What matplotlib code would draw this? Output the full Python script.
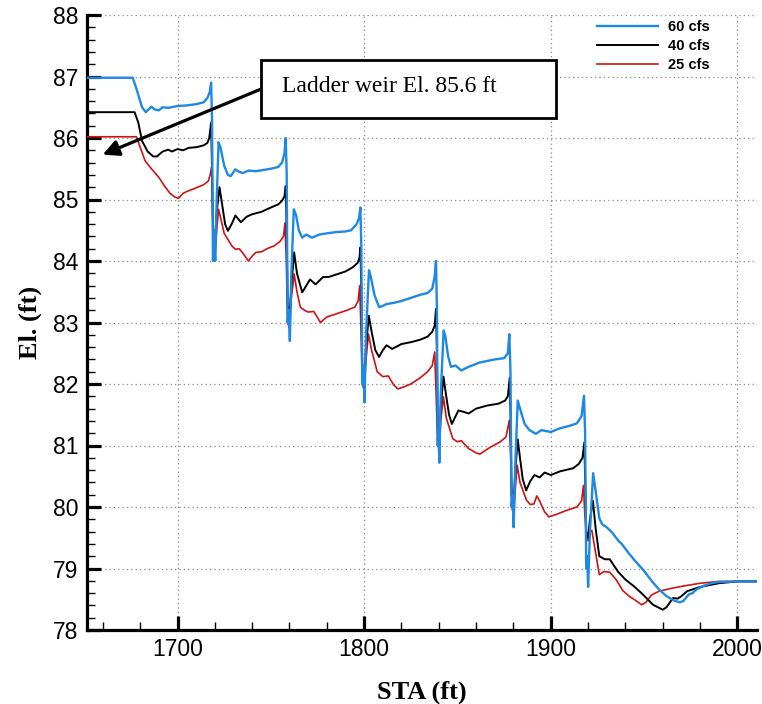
import matplotlib
matplotlib.use("Agg")
import matplotlib.pyplot as plt
from matplotlib.patches import Rectangle
from matplotlib.ticker import MultipleLocator

# ---------------- data ----------------
x60 = [1651, 1676, 1678, 1681, 1683, 1686, 1688, 1690, 1692, 1695, 1700, 1705, 1710, 1714, 1716, 1717.3, 1718,
       1718.5, 1719, 1719.6, 1720.2, 1721, 1722, 1723, 1725, 1727, 1728.5, 1731, 1733, 1735, 1738, 1742, 1746,
       1750, 1754, 1756, 1757.3, 1758, 1758.5, 1759, 1759.6, 1760.2, 1761, 1762.3, 1763.5, 1765, 1766.8, 1769,
       1772, 1776, 1780, 1785, 1790, 1793, 1796, 1797.3, 1798, 1798.5, 1799, 1799.6, 1800.2, 1801, 1802.6,
       1803.5, 1805.5, 1808, 1810, 1812, 1816, 1820, 1825, 1830, 1834, 1836.5, 1837.8, 1838.5, 1839, 1839.4,
       1839.8, 1840.3, 1841, 1842.6, 1843.5, 1845, 1846.5, 1849, 1852, 1856, 1862, 1870, 1875, 1877, 1877.8,
       1878.4, 1879, 1879.5, 1880.1, 1881, 1882.3, 1883.5, 1886, 1888.6, 1892, 1895, 1900, 1905, 1910, 1914,
       1916.5, 1917.8, 1918.4, 1919, 1919.5, 1920, 1921, 1922.7, 1924, 1926, 1927.5, 1930, 1933, 1936, 1938,
       1942, 1945, 1950, 1954, 1958, 1962, 1966, 1969, 1971, 1974, 1976, 1978, 1982, 1986, 1990, 2000, 2011]
y60 = [86.98, 86.98, 86.8, 86.5, 86.42, 86.51, 86.46, 86.45, 86.5, 86.49, 86.52, 86.53, 86.55, 86.58, 86.65, 86.75,
       86.9, 86.3, 84.0, 84.5, 84.0, 85.0, 85.93, 85.85, 85.55, 85.4, 85.38, 85.49, 85.45, 85.43, 85.47, 85.46,
       85.48, 85.5, 85.53, 85.6, 85.75, 86.0, 85.4, 83.0, 83.2, 82.7, 83.8, 84.84, 84.75, 84.5, 84.38, 84.43,
       84.38, 84.43, 84.45, 84.47, 84.48, 84.5, 84.6, 84.7, 84.87, 84.2, 82.0, 82.3, 81.7, 82.8, 83.85, 83.75,
       83.45, 83.25, 83.27, 83.3, 83.32, 83.35, 83.4, 83.45, 83.48, 83.55, 83.75, 84.0, 83.2, 81.0, 81.2,
       80.72, 81.8, 82.87, 82.78, 82.45, 82.28, 82.3, 82.22, 82.28, 82.35, 82.4, 82.42, 82.5, 82.81, 82.2,
       80.0, 80.2, 79.67, 80.7, 81.73, 81.6, 81.35, 81.25, 81.19, 81.25, 81.22, 81.28, 81.32, 81.36, 81.48,
       81.81, 81.2, 79.0, 79.2, 78.7, 79.6, 80.55, 80.27, 79.82, 79.72, 79.67, 79.58, 79.46, 79.4, 79.24,
       79.13, 78.96, 78.8, 78.66, 78.55, 78.48, 78.45, 78.47, 78.58, 78.6, 78.66, 78.72, 78.76, 78.78,
       78.79, 78.79]

x40 = [1651, 1677, 1679, 1681, 1684, 1687, 1689, 1692, 1695, 1697, 1700, 1703, 1706, 1710, 1714, 1716, 1717, 1718,
       1718.5, 1719, 1720, 1721, 1722.5, 1724, 1725.5, 1727, 1729, 1731, 1734, 1737, 1740, 1745, 1750, 1754,
       1756, 1757.3, 1758, 1758.5, 1759, 1760, 1761, 1762.5, 1764, 1766.8, 1769, 1771, 1774, 1778, 1781, 1785,
       1790, 1794, 1796.5, 1797.5, 1798, 1798.5, 1799, 1800, 1801, 1802.5, 1804, 1806, 1808, 1810, 1812, 1815,
       1820, 1825, 1830, 1834, 1836.5, 1837.8, 1838.5, 1839, 1839.5, 1840.3, 1841, 1842.5, 1844, 1845.5, 1847,
       1850.5, 1853, 1856, 1860, 1866, 1872, 1875.5, 1877, 1878, 1878.5, 1879, 1880, 1881, 1882.3, 1883.5, 1885,
       1886.8, 1889, 1891.3, 1894, 1896.7, 1900, 1905, 1912, 1915, 1917, 1918, 1918.5, 1919, 1920, 1921, 1922.6,
       1924, 1926, 1929, 1931.6, 1936, 1940, 1945, 1949.6, 1954.8, 1960, 1962, 1965.5, 1968, 1970, 1973, 1980,
       1990, 2000, 2011]
y40 = [86.42, 86.42, 86.25, 85.95, 85.78, 85.7, 85.7, 85.78, 85.81, 85.78, 85.82, 85.8, 85.84, 85.85, 85.88,
       85.92, 86.0, 86.25, 85.5, 84.5, 84.3, 84.8, 85.2, 84.9, 84.6, 84.49, 84.6, 84.74, 84.63, 84.72, 84.76,
       84.8, 84.87, 84.92, 84.98, 85.05, 85.22, 84.5, 83.3, 83.1, 83.6, 84.14, 83.8, 83.49, 83.6, 83.7, 83.62,
       83.74, 83.74, 83.78, 83.83, 83.9, 83.97, 84.05, 84.22, 83.5, 82.2, 82.0, 82.6, 83.11, 82.85, 82.55,
       82.44, 82.55, 82.63, 82.57, 82.65, 82.68, 82.72, 82.77, 82.85, 82.95, 83.22, 82.5, 81.2, 81.0, 81.6,
       82.12, 81.8, 81.5, 81.35, 81.57, 81.55, 81.52, 81.6, 81.65, 81.68, 81.73, 81.8, 82.1, 81.4, 80.2, 80.0,
       80.6, 81.1, 80.8, 80.45, 80.27, 80.42, 80.52, 80.48, 80.56, 80.52, 80.58, 80.63, 80.7, 80.8, 81.05,
       80.3, 79.6, 79.5, 79.8, 80.1, 79.66, 79.2, 79.15, 79.15, 78.95, 78.82, 78.7, 78.57, 78.41, 78.33,
       78.37, 78.52, 78.51, 78.55, 78.63, 78.7, 78.76, 78.79, 78.79]

x25 = [1651, 1678, 1680, 1682.6, 1686, 1690, 1693, 1696, 1698.5, 1700.5, 1703, 1705, 1710, 1714, 1716.5, 1717.5,
       1718.3, 1718.8, 1719.3, 1720.2, 1721, 1722, 1723.5, 1725, 1727, 1729, 1731, 1733, 1735, 1738, 1740,
       1742, 1745, 1748, 1752, 1755, 1756.8, 1757.6, 1758.3, 1759, 1760, 1761, 1762.5, 1764, 1765.8, 1768,
       1770, 1773, 1776.6, 1780, 1785, 1790, 1795, 1796.8, 1797.6, 1798.3, 1799, 1800, 1801, 1802.3, 1804,
       1807, 1810, 1813, 1815.5, 1818, 1821, 1825, 1830, 1834, 1836.5, 1837.8, 1838.5, 1839.3, 1840.3, 1841,
       1842.5, 1844, 1847.5, 1850, 1852, 1856, 1860, 1862, 1865, 1868, 1873, 1876, 1877.8, 1878.5, 1879.2,
       1880.1, 1881, 1882, 1883.5, 1887, 1889, 1891, 1892.5, 1894, 1896.7, 1899, 1903, 1908, 1914, 1916.5,
       1917.5, 1918.2, 1919, 1920, 1921, 1922, 1923.5, 1926, 1928.5, 1931.6, 1935, 1938.6, 1942, 1945, 1948.7,
       1951, 1954, 1958, 1965, 1972, 1980, 1990, 2011]
y25 = [86.02, 86.02, 85.85, 85.63, 85.5, 85.36, 85.22, 85.1, 85.04, 85.02, 85.1, 85.13, 85.19, 85.24, 85.3, 85.4,
       85.54, 84.8, 84.2, 84.1, 84.5, 84.84, 84.65, 84.45, 84.35, 84.25, 84.19, 84.2, 84.13, 84.0, 84.08, 84.14,
       84.15, 84.2, 84.25, 84.32, 84.4, 84.62, 84.0, 83.0, 82.9, 83.4, 83.79, 83.5, 83.25, 83.2, 83.17, 83.18,
       83.0, 83.09, 83.14, 83.19, 83.25, 83.35, 83.6, 82.9, 82.0, 81.9, 82.4, 82.81, 82.55, 82.2, 82.12,
       82.13, 82.0, 81.92, 81.95, 82.0, 82.1, 82.2, 82.3, 82.52, 81.9, 81.1, 80.9, 81.4, 81.79, 81.45, 81.11,
       81.06, 81.08, 80.95, 80.88, 80.86, 80.92, 80.98, 81.06, 81.14, 81.41, 80.8, 80.0, 79.85, 80.3, 80.68,
       80.4, 80.11, 80.04, 80.05, 80.18, 80.1, 79.92, 79.84, 79.88, 79.94, 80.0, 80.1, 80.35, 79.9, 79.55,
       79.45, 79.6, 79.62, 79.35, 78.9, 78.95, 78.94, 78.82, 78.64, 78.55, 78.49, 78.41, 78.45, 78.57, 78.63,
       78.68, 78.72, 78.76, 78.79, 78.79]

series_labels = ["60 cfs", "40 cfs", "25 cfs"]
x_ticks = [1700, 1800, 1900, 2000]
y_ticks = [78, 79, 80, 81, 82, 83, 84, 85, 86, 87, 88]
annot_text = "Ladder weir El. 85.6 ft"
annot_tip = (1659.9, 85.73)
annot_tail = (1745.1, 86.8)

# ---------------- figure ----------------
W, H = 762, 704
fig = plt.figure(figsize=(W / 100, H / 100), dpi=100)
ax = fig.add_axes([87 / W, 1 - 630 / H, (757 - 87) / W, (630 - 15) / H])

c60, c40, c25 = "#1e88e5", "#000000", "#cc1414"
l25, = ax.plot(x25, y25, color=c25, lw=1.2, label=series_labels[2], zorder=3)
l40, = ax.plot(x40, y40, color=c40, lw=1.4, label=series_labels[1], zorder=4)
l60, = ax.plot(x60, y60, color=c60, lw=1.7, label=series_labels[0], zorder=5)

ax.set_xlim(1651.5, 2010.5)
ax.set_ylim(78, 88)
ax.set_xticks(x_ticks)
ax.set_yticks(y_ticks)
ax.xaxis.set_minor_locator(MultipleLocator(20))
ax.yaxis.set_minor_locator(MultipleLocator(0.2))

for s in ["top", "right"]:
    ax.spines[s].set_visible(False)
for s in ["left", "bottom"]:
    ax.spines[s].set_linewidth(2.3)

ax.tick_params(which="major", direction="in", length=10, width=2.3, labelsize=16.5, pad=6)
ax.tick_params(which="minor", direction="in", length=6, width=1.0)
for lab in ax.get_xticklabels() + ax.get_yticklabels():
    lab.set_fontfamily("Liberation Sans")

ax.grid(True, which="major", color="#8a8a8a", linestyle=(0, (1, 2.5)), linewidth=0.9)
ax.set_axisbelow(True)

ax.set_xlabel("STA (ft)", fontfamily="Liberation Serif", fontweight="bold", fontsize=19, labelpad=14)
ax.set_ylabel("El. (ft)", fontfamily="Liberation Serif", fontweight="bold", fontsize=19, labelpad=8)

# legend
leg = fig.legend(handles=[l60, l40, l25], labels=series_labels, loc="upper left",
                 bbox_to_anchor=(597 / W, 1 - 20 / H), frameon=False, borderpad=0, borderaxespad=0,
                 handlelength=4.2, handletextpad=0.7, labelspacing=0.35,
                 prop={"family": "Liberation Sans", "weight": "bold", "size": 10.5})

# annotation box and arrow
box = Rectangle((261 / W, 1 - 118 / H), (556 - 261) / W, (118 - 60) / H, transform=fig.transFigure,
                facecolor="white", edgecolor="black", lw=2.0, zorder=10)
fig.patches.append(box)
fig.text(282 / W, 1 - 86 / H, annot_text, fontfamily="Liberation Serif", fontsize=17, va="center",
         ha="left", zorder=11)
ax.annotate("", xy=annot_tip, xytext=annot_tail,
            arrowprops=dict(arrowstyle="-|>", color="black", lw=2.3, mutation_scale=24,
                            shrinkA=0, shrinkB=0), zorder=9)

fig.savefig("out.png", dpi=100)
